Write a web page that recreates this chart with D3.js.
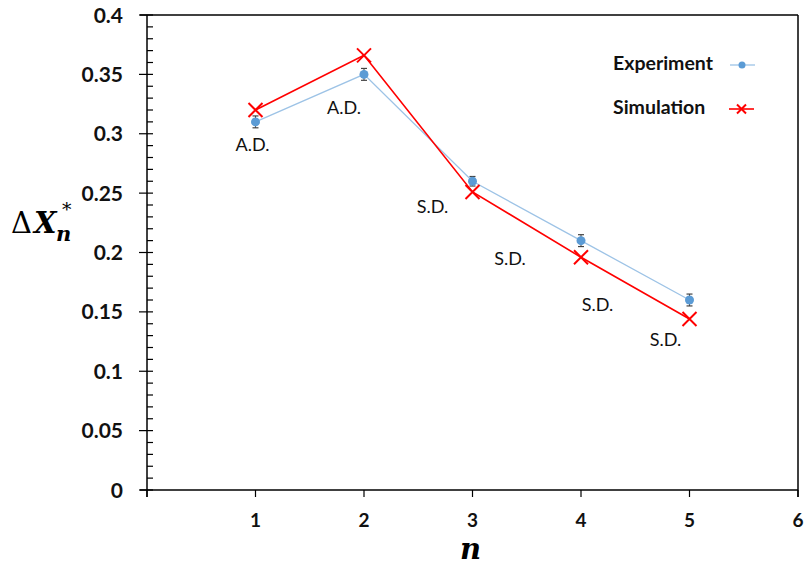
<!DOCTYPE html>
<html>
<head>
<meta charset="utf-8">
<script src="https://cdn.jsdelivr.net/npm/d3@7"></script>
<style>
  html, body { margin: 0; padding: 0; background: #fff; }
  svg { display: block; }
</style>
</head>
<body>
<svg id="chart" width="805" height="565"></svg>
<script>
// Series data
const nValues = [1, 2, 3, 4, 5];
const experiment = [0.31, 0.35, 0.26, 0.21, 0.16];
const experimentErr = [0.005, 0.005, 0.004, 0.005, 0.005];
const simulation = [0.32, 0.366, 0.251, 0.196, 0.144];
// Regime annotations: label text and the n it sits beside
const annotationText = ["A.D.", "A.D.", "S.D.", "S.D.", "S.D.", "S.D."];
const annotationN = [1, 2, 3, 4, 5, 5];
const xTicks = [0, 1, 2, 3, 4, 5, 6];
const xTickLabels = ["", "1", "2", "3", "4", "5", "6"];
const yTicks = [0, 0.05, 0.1, 0.15, 0.2, 0.25, 0.3, 0.35, 0.4];
const yTickLabels = ["0", "0.05", "0.1", "0.15", "0.2", "0.25", "0.3", "0.35", "0.4"];
const seriesNames = ["Experiment", "Simulation"];

const svg = d3.select("#chart");
const margin = { left: 147, right: 7, top: 15, bottom: 75 };
const W = 805, H = 565;

const x = d3.scaleLinear().domain([0, 6]).range([margin.left, W - margin.right]);
const y = d3.scaleLinear().domain([0, 0.4]).range([H - margin.bottom, margin.top]);

const uiFont = "Lato, 'Open Sans', sans-serif";
const serif = "'DejaVu Serif', 'Liberation Serif', serif";
const blue = "#5B9BD5", lightBlue = "#9DC3E6", red = "#FF0000";

// Frame: top and right borders
svg.append("line").attr("x1", x(0) - 7).attr("x2", x(6)).attr("y1", y(0.4)).attr("y2", y(0.4))
  .attr("stroke", "#000").attr("stroke-width", 1.5);
svg.append("line").attr("x1", x(6)).attr("x2", x(6)).attr("y1", y(0.4)).attr("y2", y(0) + 7)
  .attr("stroke", "#000").attr("stroke-width", 1.5);

// Y axis with minor ticks every 0.01
const yAxisG = svg.append("g").attr("transform", `translate(${x(0)},0)`);
yAxisG.append("line").attr("x1", 0).attr("x2", 0).attr("y1", y(0.4)).attr("y2", y(0) + 7)
  .attr("stroke", "#000").attr("stroke-width", 1.5);
const minor = d3.range(0, 0.4001, 0.01).filter(v => Math.abs(v / 0.05 - Math.round(v / 0.05)) > 1e-6);
yAxisG.selectAll("line.minor").data(minor).join("line").attr("class", "minor")
  .attr("x1", 0).attr("x2", 6).attr("y1", d => y(d)).attr("y2", d => y(d))
  .attr("stroke", "#000").attr("stroke-width", 1.2);
yAxisG.selectAll("line.major").data(yTicks).join("line").attr("class", "major")
  .attr("x1", -8).attr("x2", 6).attr("y1", d => y(d)).attr("y2", d => y(d))
  .attr("stroke", "#000").attr("stroke-width", 1.2);
yAxisG.selectAll("text").data(yTicks).join("text")
  .attr("x", -24).attr("y", d => y(d)).attr("dy", "0.36em")
  .attr("text-anchor", "end").attr("font-family", uiFont).attr("font-weight", "bold")
  .attr("font-size", 21).attr("fill", "#111")
  .text((d, i) => yTickLabels[i]);

// X axis
const xAxisG = svg.append("g").attr("transform", `translate(0,${y(0)})`);
xAxisG.append("line").attr("x1", x(0) - 7).attr("x2", x(6)).attr("y1", 0).attr("y2", 0)
  .attr("stroke", "#000").attr("stroke-width", 1.5);
xAxisG.selectAll("line.tick").data(xTicks).join("line").attr("class", "tick")
  .attr("x1", d => x(d)).attr("x2", d => x(d)).attr("y1", 0).attr("y2", 7)
  .attr("stroke", "#000").attr("stroke-width", 1.2);
xAxisG.selectAll("text").data(xTicks).join("text")
  .attr("x", d => x(d)).attr("y", 37)
  .attr("text-anchor", "middle").attr("font-family", uiFont).attr("font-weight", "bold")
  .attr("font-size", 19).attr("fill", "#111")
  .text((d, i) => xTickLabels[i]);

// Axis titles
svg.append("text").attr("x", x(3) - 2).attr("y", 559)
  .attr("text-anchor", "middle").attr("font-family", serif)
  .attr("font-style", "italic").attr("font-weight", "bold").attr("font-size", 29).attr("fill", "#000")
  .text("n");

// ΔX*_n built from separate pieces
svg.append("text").attr("x", 11).attr("y", 233).attr("font-family", serif).attr("font-size", 29)
  .attr("fill", "#000").text("Δ");
svg.append("text").attr("x", 34).attr("y", 233).attr("font-family", serif).attr("font-size", 29)
  .attr("font-style", "italic").attr("font-weight", "bold").attr("fill", "#000").text("X");
svg.append("text").attr("x", 62).attr("y", 216).attr("font-family", serif).attr("font-size", 19)
  .attr("fill", "#000").text("*");
svg.append("text").attr("x", 56).attr("y", 241).attr("font-family", serif).attr("font-size", 21)
  .attr("font-style", "italic").attr("font-weight", "bold").attr("fill", "#000").text("n");

// Experiment series: line, error bars, markers
const expData = nValues.map((n, i) => ({ n, v: experiment[i], e: experimentErr[i] }));
const simData = nValues.map((n, i) => ({ n, v: simulation[i] }));
const line = d3.line().x(d => x(d.n)).y(d => y(d.v));

svg.append("path").datum(expData).attr("d", line)
  .attr("fill", "none").attr("stroke", lightBlue).attr("stroke-width", 1.3);

const eb = svg.append("g");
expData.forEach(d => {
  const x0 = x(d.n);
  eb.append("line").attr("x1", x0).attr("x2", x0).attr("y1", y(d.v - d.e)).attr("y2", y(d.v + d.e))
    .attr("stroke", "#444").attr("stroke-width", 1);
  [d.v - d.e, d.v + d.e].forEach(v => {
    eb.append("line").attr("x1", x0 - 3).attr("x2", x0 + 3).attr("y1", y(v)).attr("y2", y(v))
      .attr("stroke", "#444").attr("stroke-width", 1.2);
  });
});

svg.selectAll("circle.exp").data(expData).join("circle").attr("class", "exp")
  .attr("cx", d => x(d.n)).attr("cy", d => y(d.v)).attr("r", 4.5).attr("fill", blue);

// Simulation series: line and x markers
svg.append("path").datum(simData).attr("d", line)
  .attr("fill", "none").attr("stroke", red).attr("stroke-width", 1.6);

const cross = (g, cx, cy, s) => {
  g.append("path").attr("d", `M${cx - s},${cy - s}L${cx + s},${cy + s}M${cx - s},${cy + s}L${cx + s},${cy - s}`)
    .attr("stroke", red).attr("stroke-width", 2).attr("fill", "none");
};
const simG = svg.append("g");
simData.forEach(d => cross(simG, x(d.n), y(d.v), 7));

// Regime annotations, placed relative to their n on the axis and the local data level
const annPlace = [
  { dx: -3, v: experiment[0], dy: 23 },
  { dx: -20, v: experiment[1], dy: 33 },
  { dx: -40, v: simulation[2], dy: 15 },
  { dx: -71, v: simulation[3], dy: 1 },
  { dx: -92, v: experiment[4], dy: 5 },
  { dx: -24, v: simulation[4], dy: 21 }
];
svg.append("g").selectAll("text").data(annotationText).join("text")
  .attr("x", (d, i) => x(annotationN[i]) + annPlace[i].dx)
  .attr("y", (d, i) => y(annPlace[i].v) + annPlace[i].dy)
  .attr("dy", "0.36em").attr("text-anchor", "middle")
  .attr("font-family", uiFont).attr("font-size", 18).attr("fill", "#111")
  .text(d => d);

// Legend
const legend = svg.append("g");
const legY = [63, 107];
seriesNames.forEach((name, i) => {
  legend.append("text").attr("x", 613).attr("y", legY[i]).attr("dy", "0.36em")
    .attr("font-family", uiFont).attr("font-weight", "bold").attr("font-size", 19.5).attr("fill", "#111")
    .text(name);
});
legend.append("line").attr("x1", 730).attr("x2", 755).attr("y1", legY[0] + 2).attr("y2", legY[0] + 2)
  .attr("stroke", lightBlue).attr("stroke-width", 1.3);
legend.append("circle").attr("cx", 742).attr("cy", legY[0] + 2).attr("r", 3.5).attr("fill", blue);
legend.append("line").attr("x1", 729).attr("x2", 754).attr("y1", legY[1] + 2).attr("y2", legY[1] + 2)
  .attr("stroke", red).attr("stroke-width", 1.6);
cross(legend, 741.5, legY[1] + 2, 4.5);
</script>
</body>
</html>
